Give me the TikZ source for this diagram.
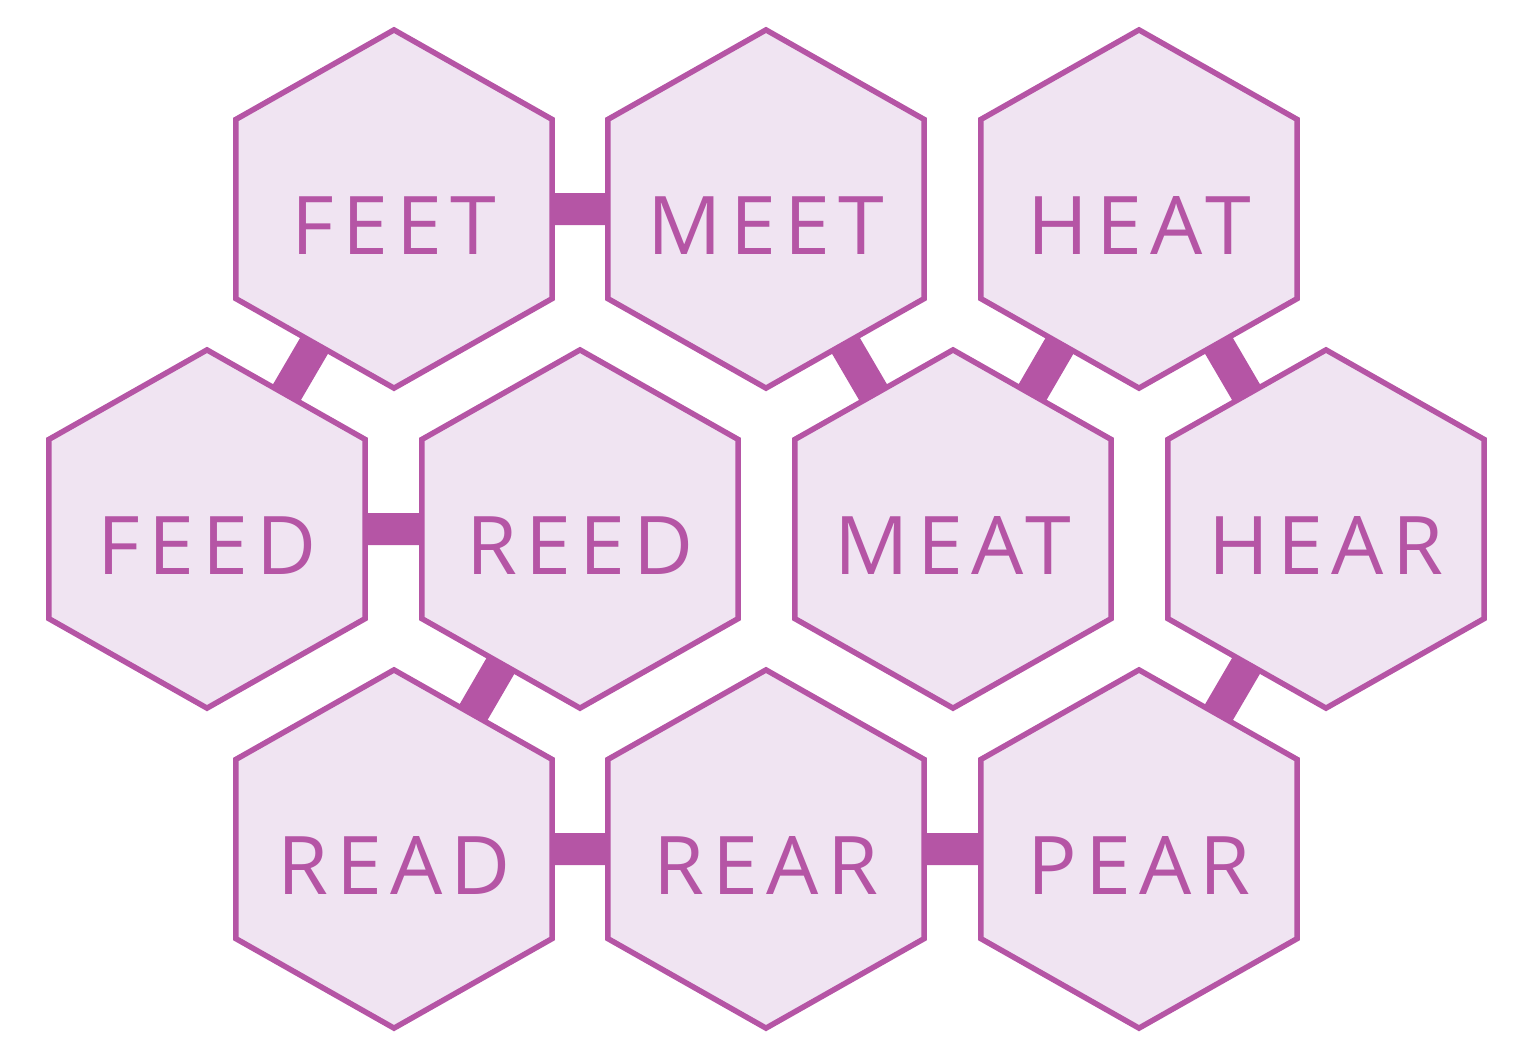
\documentclass[tikz,border=0pt]{standalone}
\usepackage{fontspec}
\setmainfont{Open Sans}[LetterSpace=10]
\usetikzlibrary{shapes.geometric,backgrounds}

\definecolor{hexline}{RGB}{181,85,165}
\definecolor{hexfill}{RGB}{240,228,242}

\tikzset{
  word/.style={regular polygon, regular polygon sides=6, shape border rotate=30,
    minimum size=3.58cm, inner sep=0pt, outer sep=0pt, xscale=1.02, transform shape,
    draw=hexline, fill=hexfill, line width=0.055cm, text=hexline,
    font=\fontsize{23}{23}\selectfont, text height=0.9cm, text depth=0cm},
  link/.style={draw=hexline, line width=0.32cm}
}

\begin{document}
\begin{tikzpicture}[x=0.01cm,y=-0.01cm]
\useasboundingbox (0,0) rectangle (1536,1062);

% top row
\node[word] (feet) at (394,209) {\makebox[0pt]{FEET}};
\node[word] (meet) at (766,209) {\makebox[0pt]{MEET}};
\node[word] (heat) at (1139,209) {\makebox[0pt]{HEAT}};
% middle row
\node[word] (feed) at (207,529) {\makebox[0pt]{FEED}};
\node[word] (reed) at (580,529) {\makebox[0pt]{REED}};
\node[word] (meat) at (953,529) {\makebox[0pt]{MEAT}};
\node[word] (hear) at (1326,529) {\makebox[0pt]{HEAR}};
% bottom row
\node[word] (read) at (394,849) {\makebox[0pt]{READ}};
\node[word] (rear) at (766,849) {\makebox[0pt]{REAR}};
\node[word] (pear) at (1139,849) {\makebox[0pt]{PEAR}};

% links, hidden under the hexagons
\begin{scope}[on background layer]
\draw[link] (feet.center) -- (meet.center)
            (feet.center) -- (feed.center)
            (feed.center) -- (reed.center)
            (reed.center) -- (read.center)
            (read.center) -- (rear.center)
            (rear.center) -- (pear.center)
            (meet.center) -- (meat.center)
            (heat.center) -- (meat.center)
            (heat.center) -- (hear.center)
            (hear.center) -- (pear.center);
\end{scope}
\end{tikzpicture}
\end{document}
